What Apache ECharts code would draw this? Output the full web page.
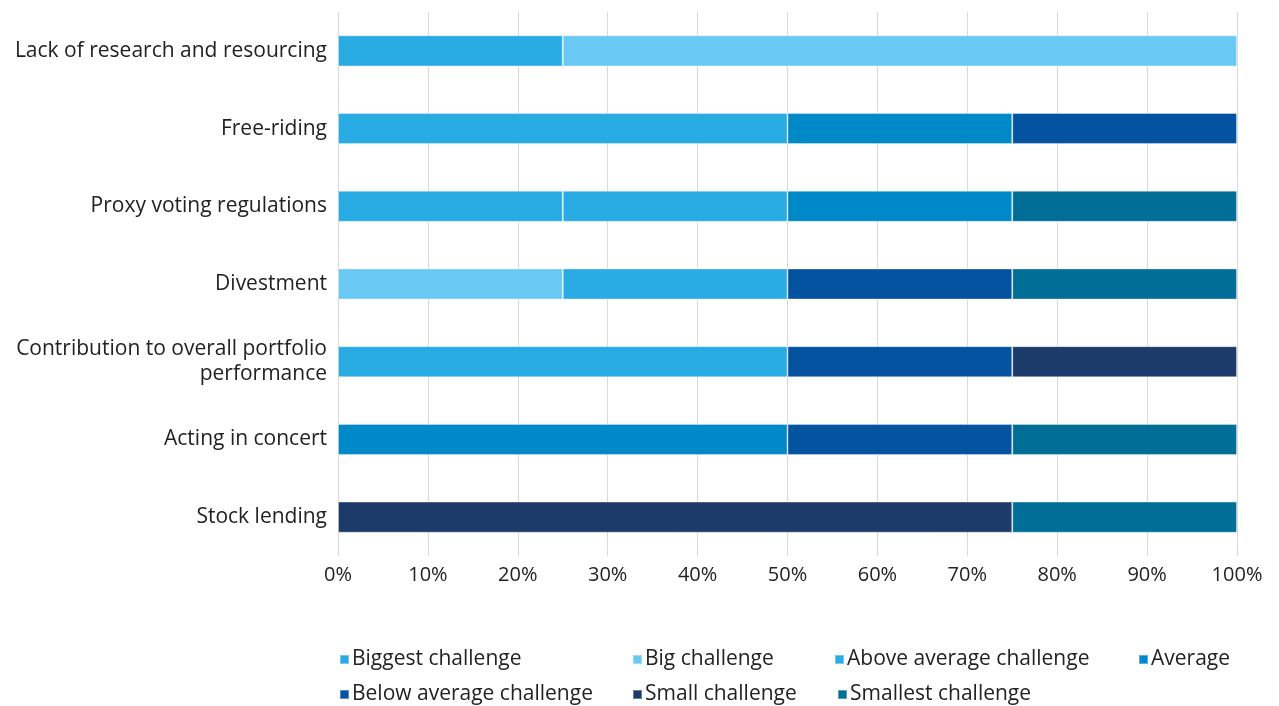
<!DOCTYPE html>
<html>
<head>
<meta charset="utf-8">
<style>
  html, body { margin: 0; padding: 0; background: #fff; }
  #chart { width: 1279px; height: 706px; }
</style>
<script src="https://cdn.jsdelivr.net/npm/echarts@6/dist/echarts.min.js"></script>
</head>
<body>
<div id="chart"></div>
<script>
// Categories, listed bottom to top (category axis runs upward)
const categories = [
  'Stock lending',
  'Acting in concert',
  'Contribution to overall portfolio\nperformance',
  'Divestment',
  'Proxy voting regulations',
  'Free-riding',
  'Lack of research and resourcing'
];

const seriesNames = [
  'Biggest challenge',
  'Big challenge',
  'Above average challenge',
  'Average',
  'Below average challenge',
  'Small challenge',
  'Smallest challenge'
];

// Share of respondents (%) per category, same order as categories
const biggest      = [0,  0,  50, 0,  25, 50, 25];
const big          = [0,  0,  0,  25, 0,  0,  75];
const aboveAverage = [0,  0,  0,  25, 25, 0,  0];
const average      = [0,  50, 0,  0,  25, 25, 0];
const belowAverage = [0,  25, 25, 25, 0,  25, 0];
const small        = [75, 0,  25, 0,  0,  0,  0];
const smallest     = [25, 25, 0,  25, 25, 0,  0];

const seriesValues = [biggest, big, aboveAverage, average, belowAverage, small, smallest];

const colors = ['#29ace3', '#69c9f2', '#29ace3', '#0089c8', '#0453a0', '#1c3a6a', '#006e96'];

const tickLabels = ['0%', '10%', '20%', '30%', '40%', '50%', '60%', '70%', '80%', '90%', '100%'];

const FONT = '"Open Sans", sans-serif';

// Legend slots: [series name, left, top]
const legendSlots = [
  ['Biggest challenge', 334, 644],
  ['Big challenge', 627, 644],
  ['Above average challenge', 829, 644],
  ['Average', 1133, 644],
  ['Below average challenge', 334, 679],
  ['Small challenge', 627, 679],
  ['Smallest challenge', 832, 679]
];

const chart = echarts.init(document.getElementById('chart'));

const series = seriesNames.map((name, i) => ({
  name: name,
  type: 'bar',
  stack: 'total',
  barWidth: '40%',
  data: seriesValues[i].map(v => (v === 0 ? null : v)),
  itemStyle: { color: colors[i], borderColor: 'rgba(255,255,255,0.35)', borderWidth: 1 },
  emphasis: { disabled: true }
}));

const legends = legendSlots.map(([name, left, top]) => ({
  data: [name],
  left: left,
  top: top,
  icon: 'rect',
  itemWidth: 9,
  itemHeight: 9,
  itemGap: 0,
  selectedMode: false,
  textStyle: { fontFamily: FONT, fontSize: 21, color: '#222', padding: [0, 0, 0, -2] }
}));

chart.setOption({
  animation: false,
  color: colors,
  grid: { left: 338, right: 42, top: 12, bottom: 150, containLabel: false },
  xAxis: {
    type: 'value',
    min: 0,
    max: 100,
    interval: 10,
    axisLine: { show: false },
    axisTick: { show: false },
    splitLine: { show: true, lineStyle: { color: '#d9d9d9', width: 1 } },
    axisLabel: {
      margin: 9,
      fontFamily: FONT,
      fontSize: 20,
      color: '#222',
      formatter: v => tickLabels[Math.round(v / 10)]
    }
  },
  yAxis: {
    type: 'category',
    data: categories,
    axisLine: { show: true, lineStyle: { color: '#d9d9d9' } },
    axisTick: { show: false },
    axisLabel: {
      margin: 11,
      fontFamily: FONT,
      fontSize: 21,
      lineHeight: 25,
      color: '#222',
      align: 'right'
    }
  },
  legend: legends,
  series: series
});
</script>
</body>
</html>
